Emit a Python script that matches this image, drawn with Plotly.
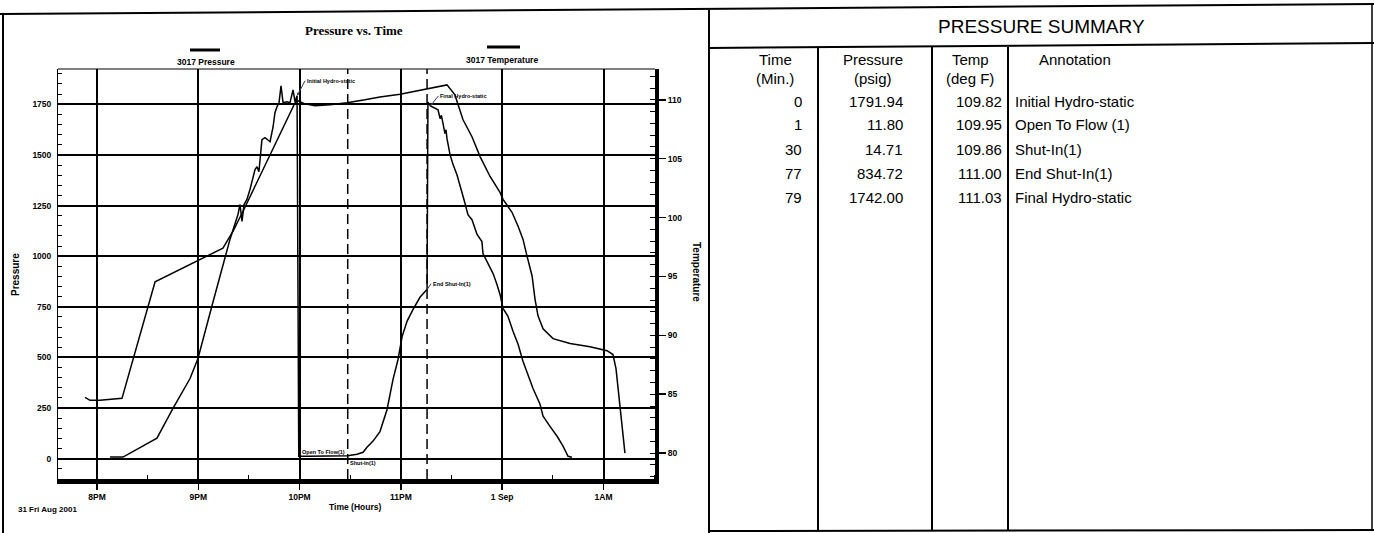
import plotly.graph_objects as go

W, H = 1374, 533


def X(px):
    return px / W


def Y(py):
    return 1 - py / H


# ---------------- data ----------------
D1 = "2001-08-31 "
D2 = "2001-09-01 "

press_time = [
    D1 + "20:07:42", D1 + "20:15:24", D1 + "20:35:30", D1 + "20:45:00", D1 + "20:55:06",
    D1 + "20:59:48", D1 + "21:08:42", D1 + "21:18:48", D1 + "21:23:30", D1 + "21:24:42",
    D1 + "21:25:54", D1 + "21:27:06", D1 + "21:28:48", D1 + "21:30:36", D1 + "21:33:36",
    D1 + "21:34:48", D1 + "21:35:54", D1 + "21:36:30", D1 + "21:37:42", D1 + "21:39:30",
    D1 + "21:42:30", D1 + "21:44:18", D1 + "21:45:24", D1 + "21:46:36", D1 + "21:47:48",
    D1 + "21:49:00", D1 + "21:50:12", D1 + "21:52:30", D1 + "21:54:18", D1 + "21:56:06",
    D1 + "21:57:18", D1 + "21:58:30", D1 + "21:59:30", D1 + "22:05:00", D1 + "22:18:00",
    D1 + "22:28:30", D1 + "22:34:00", D1 + "22:37:36", D1 + "22:39:54", D1 + "22:43:30",
    D1 + "22:47:36", D1 + "22:51:48", D1 + "22:55:18", D1 + "22:58:18", D1 + "23:00:42",
    D1 + "23:03:36", D1 + "23:07:12", D1 + "23:11:18", D1 + "23:14:18", D1 + "23:15:30",
    D1 + "23:16:00", D1 + "23:17:30", D1 + "23:22:00", D1 + "23:23:12", D1 + "23:24:00",
    D1 + "23:24:54", D1 + "23:26:06", D1 + "23:26:42", D1 + "23:27:18", D1 + "23:29:06",
    D1 + "23:30:54", D1 + "23:33:12", D1 + "23:34:24", D1 + "23:36:12", D1 + "23:38:00",
    D1 + "23:39:42", D1 + "23:42:06", D1 + "23:45:06", D1 + "23:48:00", D1 + "23:48:36",
    D1 + "23:51:36", D1 + "23:54:36", D1 + "23:56:54", D1 + "23:58:42", D2 + "00:00:30",
    D2 + "00:03:24", D2 + "00:06:24", D2 + "00:09:24", D2 + "00:12:18", D2 + "00:18:12",
    D2 + "00:22:24", D2 + "00:24:12", D2 + "00:28:18", D2 + "00:32:30", D2 + "00:36:00",
    D2 + "00:39:00", D2 + "00:41:18",
]
press_psig = [
    8, 8, 102, 249, 396,
    495, 774, 1084, 1206, 1255,
    1172, 1255, 1280, 1329, 1427,
    1442, 1417, 1477, 1575, 1585,
    1565, 1639, 1708, 1738, 1757,
    1841, 1757, 1762, 1757, 1821,
    1762, 1791.94, 11.80, 12.5, 13.5,
    14.71, 22, 32, 57, 87,
    134, 243, 391, 490, 603,
    678, 737, 797, 826, 834.72,
    1760, 1742.00, 1723, 1679, 1695,
    1649, 1605, 1624, 1580, 1501,
    1452, 1402, 1368, 1319, 1260,
    1205, 1180, 1107, 1072, 1013,
    964, 914, 860, 811, 742,
    703, 629, 565, 481, 348,
    269, 210, 160, 111, 62,
    12, 7,
]

temp_time = [
    D1 + "19:52:54", D1 + "19:55:54", D1 + "20:01:48", D1 + "20:14:48", D1 + "20:34:24",
    D1 + "21:14:36", D1 + "21:20:36", D1 + "21:26:30", D1 + "21:57:18", D1 + "21:59:06",
    D1 + "22:03:12", D1 + "22:09:06", D1 + "22:18:00", D1 + "22:28:06", D1 + "22:38:42",
    D1 + "22:47:36", D1 + "22:59:30", D1 + "23:15:30", D1 + "23:27:18", D1 + "23:32:00",
    D1 + "23:36:48", D1 + "23:42:06", D1 + "23:46:54", D1 + "23:52:48", D1 + "23:58:42",
    D2 + "00:00:30", D2 + "00:05:48", D2 + "00:09:24", D2 + "00:12:18", D2 + "00:14:42",
    D2 + "00:17:42", D2 + "00:19:24", D2 + "00:21:12", D2 + "00:24:12", D2 + "00:30:06",
    D2 + "00:40:12", D2 + "00:52:00", D2 + "01:02:06", D2 + "01:05:36", D2 + "01:07:24",
    D2 + "01:09:48", D2 + "01:12:42",
]
temp_degf = [
    84.73, 84.48, 84.48, 84.65, 94.54,
    97.41, 98.85, 100.54, 109.75, 109.92,
    109.66, 109.49, 109.58, 109.75, 110.00,
    110.25, 110.47, 110.93, 111.27, 110.42,
    108.31, 106.87, 105.18, 103.49, 102.14,
    101.55, 100.45, 99.27, 98.17, 96.73,
    95.04, 93.10, 91.66, 90.56, 89.72,
    89.30, 89.04, 88.70, 88.37, 87.18,
    83.80, 80.00,
]

hour_ticks = [D1 + "20:00", D1 + "21:00", D1 + "22:00", D1 + "23:00", D2 + "00:00", D2 + "01:00"]
hour_labels = ["8PM", "9PM", "10PM", "11PM", "1 Sep", "1AM"]
press_ticks = [0, 250, 500, 750, 1000, 1250, 1500, 1750]
temp_ticks = [80, 85, 90, 95, 100, 105, 110]

# events (chart markers)
event_time = [D1 + "21:58:30", D1 + "21:59:30", D1 + "22:28:30", D1 + "23:15:30", D1 + "23:17:30"]
event_psig = [1791.94, 11.80, 14.71, 834.72, 1742.00]
event_label = ["Initial Hydro-static", "Open To Flow(1)", "Shut-In(1)", "End Shut-In(1)", "Final Hydro-static"]

# summary table
summary_min = [0, 1, 30, 77, 79]
summary_psig = [1791.94, 11.80, 14.71, 834.72, 1742.00]
summary_degf = [109.82, 109.95, 109.86, 111.00, 111.03]
summary_note = ["Initial Hydro-static", "Open To Flow (1)", "Shut-In(1)", "End Shut-In(1)", "Final Hydro-static"]

# ---------------- figure ----------------
SANS = "Liberation Sans, Arial, sans-serif"
SERIF = "Liberation Serif, Times New Roman, serif"

PL, PR, PT, PB = 58, 655, 69, 479
xdom = [X(PL), X(PR)]
ydom = [Y(PB), Y(PT)]

fig = go.Figure()
fig.add_trace(go.Scatter(x=press_time, y=press_psig, mode="lines", name="3017 Pressure",
                         line=dict(color="black", width=1.5), yaxis="y", hoverinfo="skip"))
fig.add_trace(go.Scatter(x=temp_time, y=temp_degf, mode="lines", name="3017 Temperature",
                         line=dict(color="black", width=1.5), yaxis="y2", hoverinfo="skip"))

tickfont = dict(family=SANS, size=8.5, color="black", weight="bold")

fig.update_layout(
    width=W, height=H,
    margin=dict(l=0, r=0, t=0, b=0),
    paper_bgcolor="white", plot_bgcolor="white",
    showlegend=False,
    xaxis=dict(
        type="date", domain=xdom, anchor="y",
        range=[D1 + "19:36:54", D2 + "01:30:30"],
        tickmode="array", tickvals=hour_ticks, ticktext=hour_labels,
        showgrid=True, gridcolor="black", gridwidth=2,
        ticks="outside", ticklen=6, tickwidth=1.5, tickcolor="black",
        showline=True, linewidth=5, linecolor="black",
        zeroline=False, tickfont=tickfont,
        minor=dict(tickmode="linear", tick0=D1 + "20:00", dtick=1800000,
                   ticks="inside", ticklen=4, tickcolor="black", tickwidth=1, showgrid=False),
    ),
    yaxis=dict(
        domain=ydom, anchor="x",
        range=[-100, 1924],
        tickmode="array", tickvals=press_ticks, ticktext=[str(v) for v in press_ticks],
        showgrid=True, gridcolor="black", gridwidth=2,
        ticks="inside", ticklen=4, tickcolor="black",
        showline=True, linewidth=1, linecolor="black",
        zeroline=False, tickfont=tickfont, ticklabelstandoff=4,
        minor=dict(tickmode="linear", tick0=0, dtick=50, ticks="inside",
                   ticklen=4, tickcolor="black", tickwidth=1, showgrid=False),
    ),
    yaxis2=dict(
        overlaying="y", side="right", anchor="x",
        range=[77.80, 112.62],
        tickmode="array", tickvals=temp_ticks, ticktext=[str(v) for v in temp_ticks],
        showgrid=False,
        ticks="outside", ticklen=7, tickwidth=1.5, tickcolor="black",
        showline=True, linewidth=4, linecolor="black",
        zeroline=False, tickfont=tickfont,
        minor=dict(tickmode="linear", tick0=80, dtick=1, ticks="inside",
                   ticklen=5, tickcolor="black", tickwidth=1, showgrid=False),
    ),
)

shapes = []


def pline(x0, y0, x1, y1, w=1.5):
    shapes.append(dict(type="line", xref="paper", yref="paper",
                       x0=X(x0), y0=Y(y0), x1=X(x1), y1=Y(y1),
                       line=dict(color="black", width=w)))


# document frame
pline(0, 14, W, 4, 2)
pline(3, 14, 3, H, 2)
pline(709, 10, 709, H, 2)
pline(709, 48, W, 43, 2)
for cx in (818, 932, 1008):
    pline(cx, 47, cx, 531, 2)
pline(709, 531, W, 530, 2)
pline(1372, 4, 1372, 531, 1.5)

# plot top border
pline(PL, PT, PR, PT, 1)

# legend glyphs
pline(190, 50, 220, 50, 3)
pline(487, 47, 520, 47, 3)

# event dashed lines (shut-in, end shut-in)
for t in (event_time[2], event_time[3]):
    shapes.append(dict(type="line", xref="x", yref="paper", x0=t, x1=t,
                       y0=ydom[0], y1=ydom[1],
                       line=dict(color="black", width=1.5, dash="10px,5px")))

fig.update_layout(shapes=shapes)

ann = []


def ptext(txt, x, y, size, family=SANS, bold=False, xanchor="center", angle=0):
    ann.append(dict(text=txt, x=X(x), y=Y(y), xref="paper", yref="paper",
                    xanchor=xanchor, yanchor="middle", showarrow=False, textangle=angle,
                    font=dict(family=family, size=size, color="black",
                              weight="bold" if bold else "normal")))


ptext("Pressure vs. Time", 354, 31, 13, SERIF, bold=True)
ptext("3017 Pressure", 206, 62, 8.5, bold=True)
ptext("3017 Temperature", 502, 60, 8.5, bold=True)
ptext("Pressure", 15, 275, 10, bold=True, angle=-90)
ptext("Temperature", 697, 272, 10, bold=True, angle=90)
ptext("31 Fri Aug 2001", 47, 509, 8, bold=True)
ptext("Time (Hours)", 355, 507, 8.5, bold=True)

# table text
ptext("PRESSURE SUMMARY", 1041, 26, 19)
heads = [("Time", "(Min.)", 775), ("Pressure", "(psig)", 873), ("Temp", "(deg F)", 970)]
for h1, h2, cx in heads:
    ptext(h1, cx, 60, 15)
    ptext(h2, cx, 79, 15)
ptext("Annotation", 1075, 60, 15)
for i in range(len(summary_min)):
    ry = 101 + 24 * i
    ptext(str(summary_min[i]), 804, ry, 15, xanchor="right")
    ptext(f"{summary_psig[i]:.2f}", 905, ry, 15, xanchor="right")
    ptext(f"{summary_degf[i]:.2f}", 1004, ry, 15, xanchor="right")
    ptext(summary_note[i], 1013, ry, 15, xanchor="left")

# small event annotations on the chart
small = dict(family=SANS, size=5.5, color="black", weight="bold")
ann.append(dict(text=event_label[0], x=event_time[0], y=event_psig[0], xref="x", yref="y",
                showarrow=True, arrowhead=2, arrowsize=0.6, arrowwidth=1, ax=8, ay=-15,
                xanchor="left", yanchor="middle", font=small))
ann.append(dict(text=event_label[1], x=event_time[1], y=event_psig[1], xref="x", yref="y",
                showarrow=False, xanchor="left", yanchor="bottom", yshift=-1, xshift=1, font=small))
ann.append(dict(text=event_label[2], x=event_time[2], y=event_psig[2], xref="x", yref="y",
                showarrow=False, xanchor="left", yanchor="top", yshift=-2, font=small))
ann.append(dict(text=event_label[3], x=event_time[3], y=event_psig[3], xref="x", yref="y",
                showarrow=True, arrowhead=0, arrowwidth=1, ax=4, ay=-6,
                xanchor="left", yanchor="middle", font=small))
ann.append(dict(text=event_label[4], x=event_time[4], y=event_psig[4], xref="x", yref="y",
                showarrow=True, arrowhead=2, arrowsize=0.6, arrowwidth=1, ax=8, ay=-10,
                xanchor="left", yanchor="middle", font=small))

fig.update_layout(annotations=ann)

fig.write_html(
    "out.html",
    config={"displayModeBar": False, "staticPlot": True},
    post_script="document.body.style.margin='0px';document.body.style.overflow='hidden';",
)
